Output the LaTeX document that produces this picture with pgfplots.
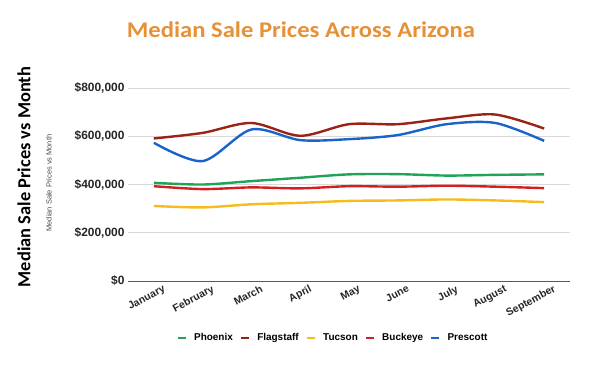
\documentclass[border=0pt]{standalone}
\usepackage{pgfplots}
\pgfplotsset{compat=1.18}
\usepackage{fontspec}
\setmainfont{Liberation Sans}
\newfontfamily\carlito{Carlito}
\definecolor{cPhoenix}{HTML}{1FA35B}
\definecolor{cFlag}{HTML}{9B2316}
\definecolor{cTucson}{HTML}{F6BC1C}
\definecolor{cBuck}{HTML}{D51E1E}
\definecolor{cPres}{HTML}{1A63C9}
\definecolor{cTitle}{HTML}{E69138}
\begin{document}
\begin{tikzpicture}[x=1bp,y=1bp]
\useasboundingbox (-128,-92) rectangle (472,281);
\begin{axis}[
  at={(0,0)}, anchor=south west,
  scale only axis, width=442bp, height=193bp,
  xmin=-0.53, xmax=8.53, ymin=0, ymax=800000,
  axis line style={draw=none},
  major tick length=0pt,
  scaled y ticks=false,
  xtick={0,...,8},
  xticklabels={January,February,March,April,May,June,July,August,September},
  ytick={200000,400000,600000,800000},
  yticklabels={{\$200,000},{\$400,000},{\$600,000},{\$800,000}},
  extra y ticks={0}, extra y tick labels={{\$0}},
  extra y tick style={grid style={black!65, line width=0.9pt}},
  ymajorgrids, grid style={black!15, line width=0.6pt},
  yticklabel style={font=\fontsize{12}{13}\selectfont\bfseries, color=black!85},
  xticklabel style={font=\fontsize{10.5}{12}\selectfont\bfseries, color=black!85, rotate=28, anchor=north east, inner sep=1pt, xshift=7bp, yshift=-6bp},
  /pgf/number format/assume math mode=true,
  legend columns=5,
  legend style={at={(0.464,-0.295)}, anchor=center, draw=none, font=\fontsize{10}{11}\selectfont\bfseries, column sep=5bp},
  legend image code/.code={\draw[line width=2.4bp] (0,0)--(8bp,0);},
  every axis plot/.append style={line width=2.4bp, smooth, tension=0.5, no marks},
]
\addplot[cPhoenix] coordinates {(0,407000)(1,400000)(2,414000)(3,428000)(4,442000)(5,443000)(6,437000)(7,440000)(8,442000)};
\addlegendentry{Phoenix}
\addplot[cFlag] coordinates {(0,591000)(1,614000)(2,655000)(3,602000)(4,650000)(5,650000)(6,674000)(7,690000)(8,632000)};
\addlegendentry{Flagstaff}
\addplot[cTucson] coordinates {(0,311000)(1,305000)(2,318000)(3,324000)(4,332000)(5,334000)(6,338000)(7,334000)(8,327000)};
\addlegendentry{Tucson}
\addplot[cBuck] coordinates {(0,393000)(1,381000)(2,388000)(3,384000)(4,393000)(5,391000)(6,395000)(7,391000)(8,385000)};
\addlegendentry{Buckeye}
\addplot[cPres] coordinates {(0,573000)(1,497000)(2,628000)(3,584000)(4,588000)(5,605000)(6,650000)(7,655000)(8,581000)};
\addlegendentry{Prescott}
\end{axis}
\node[font=\carlito\fontsize{22.5}{25}\selectfont\bfseries, color=cTitle] at (173,251) {\scalebox{1.1}[1]{Median Sale Prices Across Arizona}};
\node[font=\carlito\fontsize{18.5}{20}\selectfont\bfseries, rotate=90] at (-104,104) {Median Sale Prices vs Month};
\node[font=\fontsize{7.5}{8}\selectfont, rotate=90, color=black!70] at (-79,98) {Median Sale Prices vs Month};
\end{tikzpicture}
\end{document}
